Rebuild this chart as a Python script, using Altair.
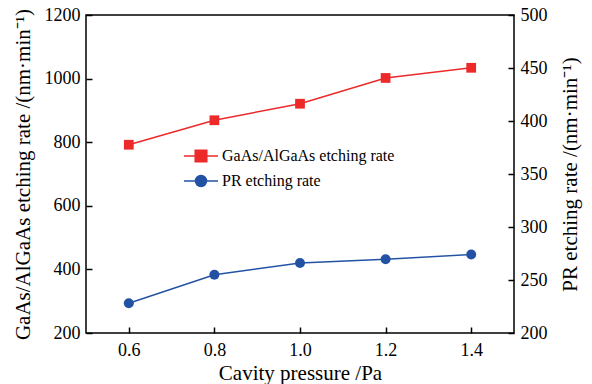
import altair as alt
import pandas as pd

pressure = [0.6, 0.8, 1.0, 1.2, 1.4]
gaas_rate = [792, 869, 921, 1002, 1034]
pr_rate = [228, 255, 266, 269.5, 274]
series_names = ["GaAs/AlGaAs etching rate", "PR etching rate"]
x_ticks = [0.6, 0.8, 1.0, 1.2, 1.4]
left_ticks = [200, 400, 600, 800, 1000, 1200]
right_ticks = [200, 250, 300, 350, 400, 450, 500]

RED = "#ec2a2a"
BLUE = "#2352a5"
FONT = "Liberation Serif"

common = dict(labelFont=FONT, titleFont=FONT, labelFontSize=18, titleFontSize=21,
              labelColor="black", titleColor="black", tickColor="black",
              tickWidth=1.5, titleFontWeight="normal", grid=False,
              labelFlush=False, domain=False, offset=-6, tickSize=6)

df_g = pd.DataFrame({"p": pressure, "v": gaas_rate, "s": series_names[0]})
df_p = pd.DataFrame({"p": pressure, "v": pr_rate, "s": series_names[1]})

x = alt.X(
    "p:Q",
    scale=alt.Scale(domain=[0.5, 1.5], nice=False, zero=False),
    axis=alt.Axis(values=x_ticks, format=".1f", title="Cavity pressure /Pa",
                  labelPadding=8, titlePadding=3, **common),
)

yL = alt.Y(
    "v:Q",
    scale=alt.Scale(domain=[200, 1200], nice=False, zero=False),
    axis=alt.Axis(values=left_ticks, format="d", orient="left",
                  title="GaAs/AlGaAs etching rate /(nm·min⁻¹)",
                  labelPadding=6, titlePadding=11, **common),
)

yR = alt.Y(
    "v:Q",
    scale=alt.Scale(domain=[200, 500], nice=False, zero=False),
    axis=alt.Axis(values=right_ticks, format="d", orient="right",
                  title="PR etching rate /(nm·min⁻¹)",
                  labelPadding=6, titlePadding=12, titleAngle=270,
                  titleBaseline="top", **common),
)

SQ = "M-1.7,0H1.7M-0.58,-0.58H0.58V0.58H-0.58Z"
CI = "M-1.7,0H1.7M-0.55,0A0.55,0.55,0,1,1,0.55,0A0.55,0.55,0,1,1,-0.55,0Z"
pr_name = series_names[1]

color = alt.Color(
    "s:N",
    scale=alt.Scale(domain=series_names, range=[RED, BLUE]),
    legend=alt.Legend(
        orient="none", legendX=104, legendY=130, title=None,
        symbolSize=400, labelFontSize=16, labelFont=FONT, labelColor="black",
        labelOffset=10, labelLimit=0, rowPadding=5, padding=0,
        symbolType={"expr": f"datum.value === '{pr_name}' ? '{CI}' : '{SQ}'"},
        symbolStrokeColor={"expr": f"datum.value === '{pr_name}' ? '{BLUE}' : '{RED}'"},
        symbolStrokeWidth=1.5, symbolOpacity=1,
    ),
)

line_g = alt.Chart(df_g).mark_line(color=RED, strokeWidth=1.5).encode(x=x, y=yL)
pts_g = alt.Chart(df_g).mark_point(shape="square", filled=True, size=95, opacity=1).encode(x=x, y=yL, color=color)
line_p = alt.Chart(df_p).mark_line(color=BLUE, strokeWidth=1.5).encode(x=x, y=yR)
pts_p = alt.Chart(df_p).mark_point(shape="circle", filled=True, size=100, opacity=1).encode(x=x, y=yR, color=color)

left = alt.layer(line_g, pts_g)
right = alt.layer(line_p, pts_p)

chart = (
    alt.layer(left, right)
    .resolve_scale(y="independent")
    .properties(
        width=428, height=318,
        autosize=alt.AutoSizeParams(type="none"),
        padding={"left": 86, "top": 15, "right": 78, "bottom": 51},
    )
    .configure_view(stroke="black", strokeWidth=1.5)
    .configure_axis(labelFont=FONT, titleFont=FONT)
)

chart.save("out.html", embed_options={"renderer": "svg", "actions": False})
